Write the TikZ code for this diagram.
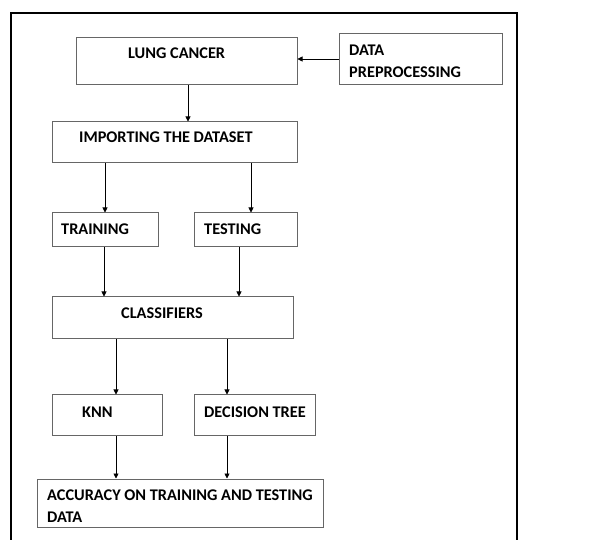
\documentclass[tikz,border=0pt]{standalone}
\usepackage{fontspec}
\setmainfont{Carlito}
\usetikzlibrary{arrows.meta}
\begin{document}
\begin{tikzpicture}[x=1pt,y=-1pt,
  box/.style={draw=black!60, line width=1pt, rectangle, inner sep=0pt},
  lbl/.style={anchor=west, inner sep=0pt, font=\bfseries\fontsize{16.3}{18}\selectfont},
  arr/.style={draw=black, line width=0.7pt, -{Triangle[length=5pt,width=5pt]}}]
\useasboundingbox (0,0) rectangle (614,540);
\draw[line width=1.6pt] (11,541) -- (11,13) -- (517,13) -- (517,541);
% boxes
\node[box, minimum width=221pt, minimum height=47pt] (lung) at (186.5,61.5) {};
\node[box, minimum width=163pt, minimum height=51pt] (prep) at (420.5,59.5) {};
\node[box, minimum width=245pt, minimum height=41pt] (imp) at (174.5,142.5) {};
\node[box, minimum width=106pt, minimum height=34pt] (train) at (105,230) {};
\node[box, minimum width=103pt, minimum height=34pt] (test) at (245.5,230) {};
\node[box, minimum width=241pt, minimum height=42pt] (cls) at (172.5,318) {};
\node[box, minimum width=110pt, minimum height=41pt] (knn) at (107,415.5) {};
\node[box, minimum width=121pt, minimum height=41pt] (dt) at (254.5,415.5) {};
\node[box, minimum width=286pt, minimum height=48pt] (acc) at (180,503) {};
% labels
\node[lbl] (tlung) at (128,53) {LUNG CANCER};
\node[lbl] (tprep1) at (349,50) {DATA};
\node[lbl] (tprep2) at (349,72) {PREPROCESSING};
\node[lbl] (timp) at (79,137) {IMPORTING THE DATASET};
\node[lbl] (ttrain) at (61,229) {TRAINING};
\node[lbl] (ttest) at (204,229) {TESTING};
\node[lbl] (tcls) at (121,313) {CLASSIFIERS};
\node[lbl] (tknn) at (82,412) {KNN};
\node[lbl] (tdt) at (204,412) {DECISION TREE};
\node[lbl] (tacc1) at (47,495) {ACCURACY ON TRAINING AND TESTING};
\node[lbl] (tacc2) at (47,517) {DATA};
% connectors
\draw[arr] (prep.west |- 0,59) -- (lung.east |- 0,59);
\draw[arr] (lung.south -| 188,0) -- (imp.north -| 188,0);
\draw[arr] (imp.south -| 105,0) -- (train.north -| 105,0);
\draw[arr] (imp.south -| 251,0) -- (test.north -| 251,0);
\draw[arr] (train.south -| 104,0) -- (cls.north -| 104,0);
\draw[arr] (test.south -| 239,0) -- (cls.north -| 239,0);
\draw[arr] (cls.south -| 116,0) -- (knn.north -| 116,0);
\draw[arr] (cls.south -| 227,0) -- (dt.north -| 227,0);
\draw[arr] (knn.south -| 116,0) -- (acc.north -| 116,0);
\draw[arr] (dt.south -| 227,0) -- (acc.north -| 227,0);
\end{tikzpicture}
\end{document}
